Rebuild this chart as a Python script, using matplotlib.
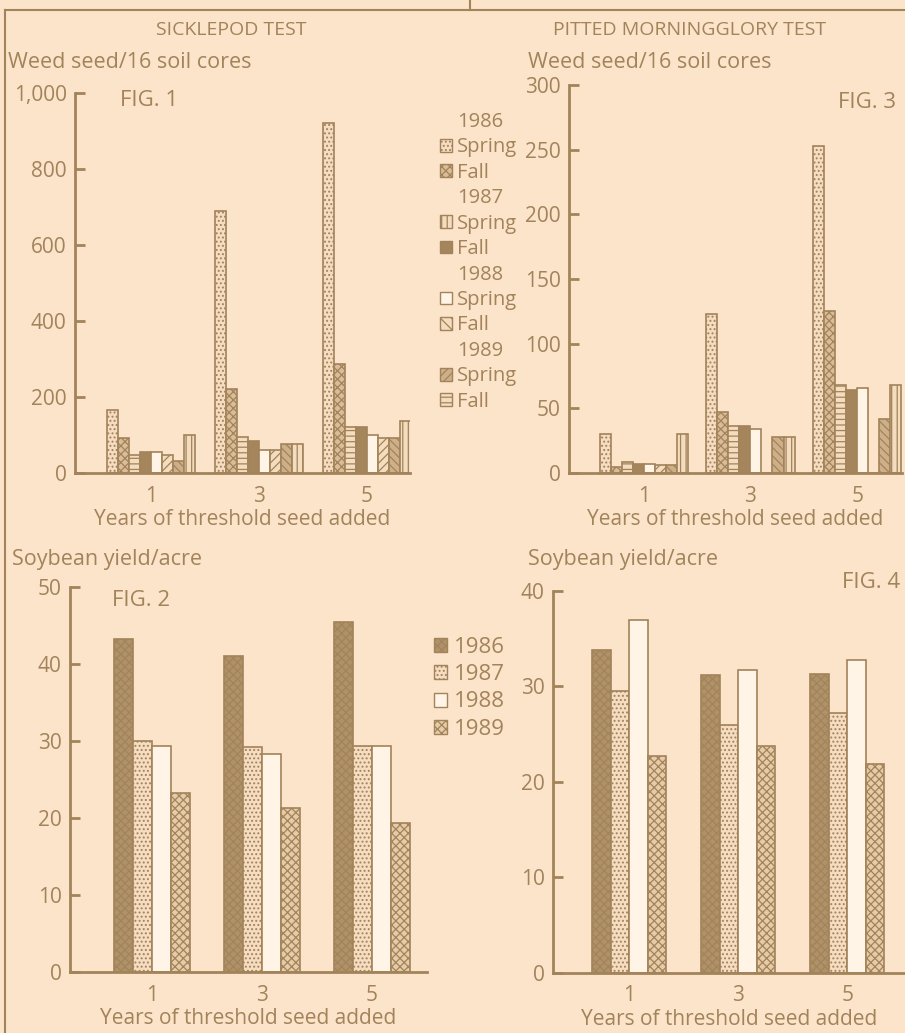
import numpy as np
import matplotlib
matplotlib.use('Agg')
from matplotlib import pyplot as plt
from matplotlib.patches import Patch
from matplotlib.lines import Line2D

plt.rcParams['font.family'] = ['Open Sans', 'DejaVu Sans']
plt.rcParams['hatch.linewidth'] = 0.9

BG = '#FBE4CA'
INK = '#A2835A'
DARK = '#A5855C'

# ---- data ----
groups = ['1', '3', '5']

# Fig 1: sicklepod seed, order of bars in each group
sick_86s = [165, 690, 920]
sick_86f = [92, 221, 286]
sick_87s = [47, 96, 121]
sick_87f = [55, 84, 121]
sick_88s = [54, 60, 99]
sick_88f = [47, 60, 91]
sick_89s = [32, 77, 91]
sick_89f = [100, 77, 136]

# Fig 3: pitted morningglory seed
pmg_86s = [30, 123, 253]
pmg_86f = [4.5, 47, 125]
pmg_87s = [8.5, 36, 68]
pmg_87f = [6.7, 36, 64.5]
pmg_88s = [7, 34, 66]
pmg_88f = [6.2, 0, 0]
pmg_89s = [6.2, 27.6, 42]
pmg_89f = [30, 27.6, 68]

# Fig 2 / Fig 4: soybean yield
years = ['1986', '1987', '1988', '1989']
sick_yield_86 = [43.2, 41.1, 45.5]
sick_yield_87 = [30.0, 29.2, 29.3]
sick_yield_88 = [29.3, 28.3, 29.3]
sick_yield_89 = [23.2, 21.3, 19.3]

pmg_yield_86 = [33.8, 31.2, 31.3]
pmg_yield_87 = [29.5, 26.0, 27.2]
pmg_yield_88 = [37.0, 31.7, 32.8]
pmg_yield_89 = [22.7, 23.8, 21.9]

# bar styles (face, hatch)
seed_styles = [('#F6DCC0', '....'), ('#D9BC98', 'xxxx'), ('#F4DCBF', '---'),
               (DARK, ''), ('#FFF4E6', ''), ('#F4DCBF', '////'),
               ('#CDB08A', '\\\\\\\\'), ('#F4DCBF', '|||')]
# legend in the original shows these symbols
seed_leg_styles = [('#F6DCC0', '....'), ('#D9BC98', 'xxxx'), ('#F4DCBF', '|||'),
                   (DARK, ''), ('#FFF4E6', ''), ('#F4DCBF', '\\\\\\'),
                   ('#CDB08A', '////'), ('#F4DCBF', '---')]
yield_styles = [('#B0926A', 'xxxx'), ('#F6DCC0', '....'), ('#FFF4E6', ''),
                ('#E6CBA8', 'xxxx')]

FS = 15

fig = plt.figure(figsize=(9.05, 10.33), dpi=100, facecolor=BG)


def style_axes(ax, ymax, yticks, ylabels):
    ax.set_facecolor(BG)
    for s in ['top', 'right']:
        ax.spines[s].set_visible(False)
    for s in ['left', 'bottom']:
        ax.spines[s].set_color(INK)
        ax.spines[s].set_linewidth(2)
    ax.set_ylim(0, ymax)
    ax.set_yticks(yticks)
    ax.set_yticklabels(ylabels)
    ax.tick_params(axis='y', direction='in', length=7, width=2, color=INK,
                   labelcolor=INK, labelsize=FS, pad=6)
    ax.set_xticks(range(3))
    ax.set_xticklabels(groups)
    ax.tick_params(axis='x', length=0, labelcolor=INK, labelsize=FS, pad=9)
    ax.set_xlabel('Years of threshold seed added', color=INK, fontsize=FS,
                  labelpad=1.5)


def grouped(ax, series, styles, width):
    n = len(series)
    w = width / n
    x = np.arange(3)
    for i, (vals, (fc, h)) in enumerate(zip(series, styles)):
        ax.bar(x - width / 2 + w * (i + 0.5), vals, w, color=fc, hatch=h,
               edgecolor=INK, linewidth=1.2)


# Fig 1
ax1 = fig.add_axes([0.0829, 0.5421, 0.370, 0.3679])
grouped(ax1, [sick_86s, sick_86f, sick_87s, sick_87f, sick_88s, sick_88f,
              sick_89s, sick_89f], seed_styles, 0.815)
ax1.set_xlim(-0.70, 2.40)
style_axes(ax1, 1000, [0, 200, 400, 600, 800, 1000],
           ['0', '200', '400', '600', '800', '1,000'])

# Fig 3
ax3 = fig.add_axes([0.6287, 0.5421, 0.368, 0.3756])
grouped(ax3, [pmg_86s, pmg_86f, pmg_87s, pmg_87f, pmg_88s, pmg_88f,
              pmg_89s, pmg_89f], seed_styles, 0.826)
ax3.set_xlim(-0.70, 2.42)
style_axes(ax3, 300, [0, 50, 100, 150, 200, 250, 300],
           ['0', '50', '100', '150', '200', '250', '300'])

# Fig 2
ax2 = fig.add_axes([0.0773, 0.059, 0.3945, 0.3727])
grouped(ax2, [sick_yield_86, sick_yield_87, sick_yield_88, sick_yield_89],
        yield_styles, 0.69)
ax2.set_xlim(-0.745, 2.5)
style_axes(ax2, 50, [0, 10, 20, 30, 40, 50],
           ['0', '10', '20', '30', '40', '50'])

# Fig 4
ax4 = fig.add_axes([0.611, 0.0581, 0.389, 0.3698])
grouped(ax4, [pmg_yield_86, pmg_yield_87, pmg_yield_88, pmg_yield_89],
        yield_styles, 0.68)
ax4.set_xlim(-0.70, 2.53)
style_axes(ax4, 40, [0, 10, 20, 30, 40], ['0', '10', '20', '30', '40'])

# legend for seed figures
blank = Patch(facecolor='none', edgecolor='none')
handles, labels = [], []
for k, yr in enumerate(['1986', '1987', '1988', '1989']):
    handles.append(blank)
    labels.append(yr)
    for j, season in enumerate(['Spring', 'Fall']):
        fc, h = seed_leg_styles[2 * k + j]
        handles.append(Patch(facecolor=fc, hatch=h, edgecolor=INK, linewidth=1))
        labels.append(season)
fig.legend(handles, labels, loc='upper left',
           bbox_to_anchor=(440 / 905, 1 - 112 / 1033), frameon=False,
           fontsize=14.5, labelcolor=INK, handlelength=0.6,
           handleheight=0.6, handletextpad=0.25, labelspacing=0.27,
           borderpad=0, borderaxespad=0)

# legend for yield figure
yh = [Patch(facecolor=fc, hatch=h, edgecolor=INK, linewidth=1)
      for fc, h in yield_styles]
fig.legend(yh, years, loc='upper left',
           bbox_to_anchor=(434 / 905, 1 - 637 / 1033), frameon=False,
           fontsize=16, labelcolor=INK, handlelength=0.6, handleheight=0.6,
           handletextpad=0.3, labelspacing=0.28, borderpad=0, borderaxespad=0)

# headings and axis titles
def ftext(x, y, s, size=15.5, **kw):
    fig.text(x / 905, 1 - y / 1033, s, color=INK, fontsize=size, va='center', **kw)

ftext(231, 30, 'SICKLEPOD TEST', size=14, ha='center')
ftext(690, 30, 'PITTED MORNINGGLORY TEST', size=14, ha='center')
ftext(8, 62, 'Weed seed/16 soil cores', ha='left')
ftext(528, 62, 'Weed seed/16 soil cores', ha='left')
ftext(12, 560, 'Soybean yield/acre', ha='left')
ftext(528, 560, 'Soybean yield/acre', ha='left')
ftext(120, 100, 'FIG. 1', size=16, ha='left')
ftext(896, 103, 'FIG. 3', size=16, ha='right')
ftext(112, 600, 'FIG. 2', size=16, ha='left')
ftext(900, 583, 'FIG. 4', size=16, ha='right')

# page frame
fig.add_artist(Line2D([5 / 905, 5 / 905], [0, 1 - 10 / 1033], color=INK, lw=1.5))
fig.add_artist(Line2D([5 / 905, 1], [1 - 10 / 1033, 1 - 10 / 1033], color=INK, lw=1.5))
fig.add_artist(Line2D([470 / 905, 470 / 905], [1 - 10 / 1033, 1], color=INK, lw=1.5))

fig.savefig('out.png', dpi=100, facecolor=BG)
